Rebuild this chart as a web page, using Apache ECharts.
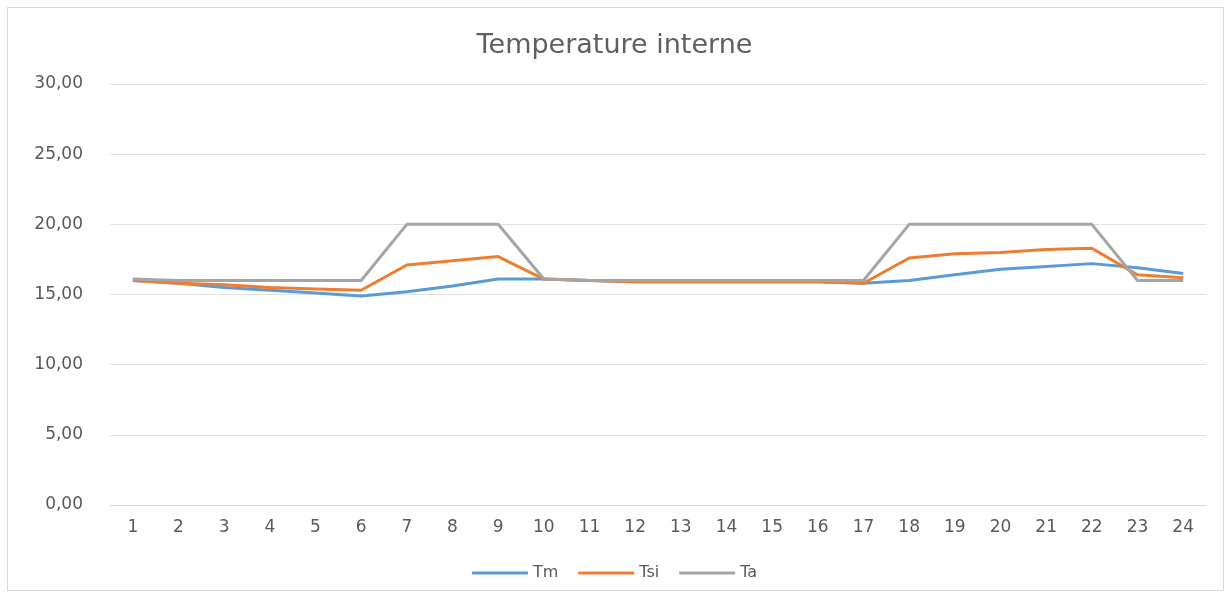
<!DOCTYPE html>
<html>
<head>
<meta charset="utf-8">
<script src="https://cdn.jsdelivr.net/npm/echarts@6/dist/echarts.min.js"></script>
<style>
html,body{margin:0;padding:0;background:#fff;}
#frame{position:absolute;left:7px;top:7px;width:1217px;height:584px;border:1px solid #d9d9d9;box-sizing:border-box;}
#main{position:absolute;left:0;top:0;width:1229px;height:596px;}
</style>
</head>
<body>
<div id="frame"></div>
<div id="main"></div>
<script>
const categories = ['1','2','3','4','5','6','7','8','9','10','11','12','13','14','15','16','17','18','19','20','21','22','23','24'];
const Tm  = [16.0,15.8,15.5,15.3,15.1,14.9,15.2,15.6,16.1,16.1,16.0,15.9,15.9,15.9,15.9,15.9,15.8,16.0,16.4,16.8,17.0,17.2,16.9,16.5];
const Tsi = [16.0,15.8,15.7,15.5,15.4,15.3,17.1,17.4,17.7,16.1,16.0,15.9,15.9,15.9,15.9,15.9,15.8,17.6,17.9,18.0,18.2,18.3,16.4,16.2];
const Ta  = [16.1,16.0,16.0,16.0,16.0,16.0,20.0,20.0,20.0,16.1,16.0,16.0,16.0,16.0,16.0,16.0,16.0,20.0,20.0,20.0,20.0,20.0,16.0,16.0];
const seriesNames = ['Tm','Tsi','Ta'];
const colors = ['#5B9BD5','#ED7D31','#A5A5A5'];

const chart = echarts.init(document.getElementById('main'));
const font = 'DejaVu Sans';
const mk = (name, data, c) => ({
  name, type:'line', data, symbol:'none', smooth:false,
  lineStyle:{width:3, color:c}, itemStyle:{color:c}
});
chart.setOption({
  animation:false,
  title:{text:'Temperature interne', left:'center', top:27,
    textStyle:{fontFamily:font, fontSize:27, fontWeight:'normal', color:'#5f5f5f'}},
  legend:{bottom:10, left:'center', icon:'rect', itemWidth:56, itemHeight:3, itemGap:20,
    textStyle:{fontFamily:font, fontSize:16, color:'#595959'},
    data:seriesNames},
  grid:{left:110, right:23, top:84, bottom:91},
  xAxis:{type:'category', data:categories, boundaryGap:true,
    axisLine:{show:true, lineStyle:{color:'#d9d9d9'}}, axisTick:{show:false},
    axisLabel:{fontFamily:font, fontSize:17, color:'#595959', margin:14}},
  yAxis:{type:'value', min:0, max:30, interval:5,
    axisLine:{show:false}, axisTick:{show:false},
    splitLine:{lineStyle:{color:'#e0e0e0'}},
    axisLabel:{fontFamily:font, fontSize:17, color:'#595959', margin:27,
      formatter:v=>v.toFixed(2).replace('.',',')}},
  series:[mk('Tm',Tm,colors[0]), mk('Tsi',Tsi,colors[1]), mk('Ta',Ta,colors[2])]
});
</script>
</body>
</html>
